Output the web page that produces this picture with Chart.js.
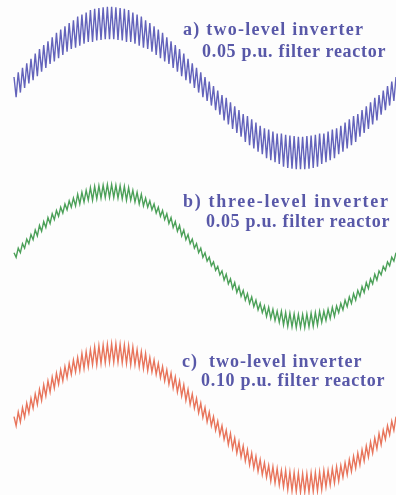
<!DOCTYPE html>
<html><head><meta charset="utf-8">
<script src="https://cdn.jsdelivr.net/npm/chart.js@4"></script>
<style>
html,body{margin:0;padding:0;background:#fff;}
#wrap{position:relative;width:396px;height:495px;overflow:hidden;background:#fdfdfd}
#c{position:absolute;left:0;top:0}
.lbl{position:absolute;font-family:"Liberation Serif","Times New Roman",serif;font-weight:bold;font-size:18px;line-height:18px;color:#5858a8;letter-spacing:0.7px;white-space:nowrap}
</style></head><body>
<div id="wrap"><canvas id="c" width="396" height="495"></canvas>
<div class="lbl" style="left:183px;top:20px;letter-spacing:1.25px">a) two-level inverter</div>
<div class="lbl" style="left:202px;top:42px">0.05 p.u. filter reactor</div>
<div class="lbl" style="left:183px;top:192px;letter-spacing:1.7px">b) three-level inverter</div>
<div class="lbl" style="left:206px;top:212px">0.05 p.u. filter reactor</div>
<div class="lbl" style="left:182px;top:352px;letter-spacing:1px">c)&nbsp; two-level inverter</div>
<div class="lbl" style="left:201px;top:371px">0.10 p.u. filter reactor</div>
</div>
<script>
// electrical angle (degrees)
const angles = [0,2,4,6,8,10,12,14,16,18,20,22,24,26,28,30,32,34,36,38,40,42,44,46,48,50,52,54,56,58,60,62,64,66,68,70,72,74,76,78,80,82,84,86,88,90,92,94,96,98,100,102,104,106,108,110,112,114,116,118,120,122,124,126,128,130,132,134,136,138,140,142,144,146,148,150,152,154,156,158,160,162,164,166,168,170,172,174,176,178,180,182,184,186,188,190,192,194,196,198,200,202,204,206,208,210,212,214,216,218,220,222,224,226,228,230,232,234,236,238,240,242,244,246,248,250,252,254,256,258,260,262,264,266,268,270,272,274,276,278,280,282,284,286,288,290,292,294,296,298,300,302,304,306,308,310,312,314,316,318,320,322,324,326,328,330,332,334,336,338,340,342,344,346,348,350,352,354,356,358,360];

// a) two-level inverter, 0.05 p.u. filter reactor (current, p.u.)
const currentA = [0.17,-0.14,0.24,-0.07,0.31,0.00,0.38,0.07,0.45,0.12,0.53,0.18,0.60,0.25,0.66,0.31,0.72,0.37,0.78,0.41,0.85,0.46,0.90,0.51,0.95,0.56,1.00,0.60,1.04,0.62,1.10,0.65,1.13,0.68,1.16,0.71,1.20,0.71,1.22,0.73,1.23,0.74,1.24,0.75,1.25,0.75,1.25,0.75,1.24,0.74,1.23,0.73,1.22,0.71,1.20,0.71,1.16,0.68,1.13,0.65,1.10,0.62,1.04,0.60,1.00,0.56,0.95,0.51,0.90,0.46,0.85,0.41,0.78,0.37,0.72,0.31,0.66,0.25,0.60,0.18,0.53,0.12,0.45,0.07,0.38,0.00,0.31,-0.07,0.24,-0.14,0.17,-0.20,0.10,-0.27,0.03,-0.34,-0.04,-0.41,-0.11,-0.50,-0.15,-0.56,-0.22,-0.63,-0.28,-0.69,-0.34,-0.75,-0.40,-0.83,-0.43,-0.88,-0.48,-0.93,-0.53,-0.98,-0.58,-1.02,-0.62,-1.08,-0.64,-1.11,-0.67,-1.14,-0.70,-1.17,-0.70,-1.21,-0.72,-1.23,-0.73,-1.24,-0.74,-1.25,-0.75,-1.25,-0.75,-1.25,-0.74,-1.24,-0.73,-1.23,-0.72,-1.21,-0.70,-1.17,-0.70,-1.14,-0.67,-1.11,-0.64,-1.08,-0.62,-1.02,-0.58,-0.98,-0.53,-0.93,-0.48,-0.88,-0.43,-0.83,-0.40,-0.75,-0.34,-0.69,-0.28,-0.63,-0.22,-0.56,-0.15,-0.50,-0.11,-0.41,-0.04,-0.34,0.03,-0.27,0.10,-0.20,0.17];

// b) three-level inverter, 0.05 p.u. filter reactor
const currentB = [0.05,-0.02,0.12,0.05,0.19,0.12,0.26,0.19,0.33,0.25,0.40,0.31,0.47,0.38,0.53,0.44,0.59,0.50,0.65,0.56,0.70,0.61,0.75,0.66,0.80,0.71,0.85,0.75,0.89,0.77,0.95,0.80,0.98,0.83,1.01,0.86,1.05,0.86,1.07,0.88,1.08,0.89,1.09,0.90,1.10,0.90,1.10,0.90,1.09,0.89,1.08,0.88,1.07,0.86,1.05,0.86,1.01,0.83,0.98,0.80,0.95,0.77,0.89,0.75,0.85,0.71,0.80,0.66,0.75,0.61,0.70,0.56,0.65,0.50,0.59,0.44,0.53,0.38,0.47,0.31,0.40,0.25,0.33,0.19,0.26,0.12,0.19,0.05,0.12,-0.02,0.05,-0.08,-0.02,-0.15,-0.09,-0.22,-0.16,-0.29,-0.23,-0.37,-0.28,-0.43,-0.35,-0.50,-0.41,-0.56,-0.47,-0.62,-0.53,-0.68,-0.58,-0.73,-0.63,-0.78,-0.68,-0.83,-0.73,-0.87,-0.77,-0.93,-0.79,-0.96,-0.82,-0.99,-0.85,-1.02,-0.85,-1.06,-0.87,-1.08,-0.88,-1.09,-0.89,-1.10,-0.90,-1.10,-0.90,-1.10,-0.89,-1.09,-0.88,-1.08,-0.87,-1.06,-0.85,-1.02,-0.85,-0.99,-0.82,-0.96,-0.79,-0.93,-0.77,-0.87,-0.73,-0.83,-0.68,-0.78,-0.63,-0.73,-0.58,-0.68,-0.53,-0.62,-0.47,-0.56,-0.41,-0.50,-0.35,-0.43,-0.28,-0.37,-0.23,-0.29,-0.16,-0.22,-0.09,-0.15,-0.02,-0.08,0.05];

// c) two-level inverter, 0.10 p.u. filter reactor
const currentC = [0.02,-0.12,0.09,-0.06,0.16,0.01,0.23,0.08,0.30,0.15,0.37,0.21,0.44,0.27,0.51,0.34,0.57,0.40,0.63,0.46,0.69,0.52,0.74,0.57,0.79,0.62,0.84,0.67,0.89,0.71,0.93,0.73,0.99,0.76,1.02,0.79,1.05,0.82,1.09,0.82,1.11,0.84,1.12,0.85,1.13,0.86,1.14,0.86,1.14,0.86,1.13,0.85,1.12,0.84,1.11,0.82,1.09,0.82,1.05,0.79,1.02,0.76,0.99,0.73,0.93,0.71,0.89,0.67,0.84,0.62,0.79,0.57,0.74,0.52,0.69,0.46,0.63,0.40,0.57,0.34,0.51,0.27,0.44,0.21,0.37,0.15,0.30,0.08,0.23,0.01,0.16,-0.06,0.09,-0.12,0.02,-0.19,-0.05,-0.26,-0.12,-0.33,-0.19,-0.41,-0.24,-0.47,-0.31,-0.54,-0.37,-0.60,-0.43,-0.66,-0.49,-0.72,-0.54,-0.77,-0.59,-0.82,-0.64,-0.87,-0.69,-0.91,-0.73,-0.97,-0.75,-1.00,-0.78,-1.03,-0.81,-1.06,-0.81,-1.10,-0.83,-1.12,-0.84,-1.13,-0.85,-1.14,-0.86,-1.14,-0.86,-1.14,-0.85,-1.13,-0.84,-1.12,-0.83,-1.10,-0.81,-1.06,-0.81,-1.03,-0.78,-1.00,-0.75,-0.97,-0.73,-0.91,-0.69,-0.87,-0.64,-0.82,-0.59,-0.77,-0.54,-0.72,-0.49,-0.66,-0.43,-0.60,-0.37,-0.54,-0.31,-0.47,-0.24,-0.41,-0.19,-0.33,-0.12,-0.26,-0.05,-0.19,0.02];

const toXY = arr => arr.map((v, i) => ({x: angles[i], y: v}));

new Chart(document.getElementById('c'), {
  type: 'line',
  data: {
    datasets: [
      {data: toXY(currentA), yAxisID: 'yA', borderColor: 'rgba(72,72,175,0.85)', borderWidth: 1.4},
      {data: toXY(currentB), yAxisID: 'yB', borderColor: 'rgba(55,150,70,0.9)', borderWidth: 1.4},
      {data: toXY(currentC), yAxisID: 'yC', borderColor: 'rgba(228,92,62,0.85)', borderWidth: 1.4}
    ]
  },
  options: {
    responsive: false,
    animation: false,
    devicePixelRatio: 1,
    layout: {padding: 0},
    elements: {point: {radius: 0}, line: {tension: 0}},
    datasets: {line: {clip: false}},
    plugins: {legend: {display: false}, tooltip: {enabled: false}, title: {display: false}},
    scales: {
      x: {type: 'linear', display: false, min: -13.2, max: 360},
      yA: {type: 'linear', display: false, min: -6.262, max: 1.354},
      yB: {type: 'linear', display: false, min: -3.677, max: 3.938},
      yC: {type: 'linear', display: false, min: -1.185, max: 6.431}
    }
  }
});
</script>
</body></html>
